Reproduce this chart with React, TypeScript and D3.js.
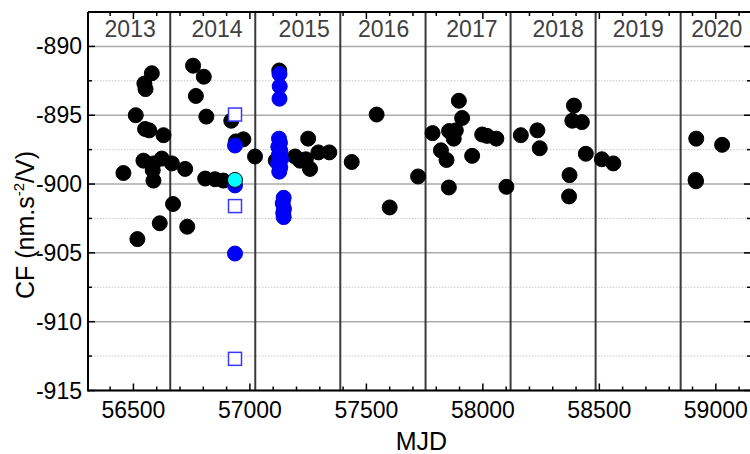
import React from "react";
import * as d3 from "d3";

// Black points: [MJD, CF]
const blackPoints: [number, number][] = [
  [56457, -899.2], [56510, -895.0], [56543, -898.3], [56547, -892.7], [56552, -893.1],
  [56550, -896.0], [56568, -896.1], [56579, -891.95], [56583, -899.0], [56586, -898.5],
  [56586, -899.75], [56517, -904.0], [56613, -902.85], [56622, -898.15], [56629, -896.45],
  [56665, -898.5], [56670, -901.45],
  [56722, -898.9], [56731, -903.1], [56756, -891.4], [56768, -893.6], [56802, -892.2],
  [56808, -899.6], [56813, -895.1], [56850, -899.65], [56886, -899.75], [56920, -895.4],
  [56940, -896.9], [56972, -896.75], [57022, -898.0],
  [57126, -891.75], [57111, -898.3], [57194, -898.0], [57215, -898.3], [57240, -898.2],
  [57250, -896.7], [57258, -898.9], [57294, -897.7], [57341, -897.7],
  [57437, -898.4], [57544, -894.95], [57600, -901.7], [57722, -899.45],
  [57784, -896.3], [57820, -897.55], [57844, -898.25], [57854, -900.25], [57855, -896.15],
  [57884, -896.1], [57875, -896.7], [57897, -893.95], [57911, -895.2], [57954, -897.95],
  [57997, -896.4], [58018, -896.5], [58058, -896.7], [58101, -900.2],
  [58163, -896.45], [58234, -896.1], [58244, -897.4], [58372, -899.35], [58370, -900.9],
  [58391, -894.3], [58384, -895.4], [58425, -895.5], [58442, -897.8],
  [58511, -898.2], [58560, -898.5],
  [58916, -896.7], [58913, -899.7], [58915, -899.8], [59027, -897.15],
];

// Blue filled points: [MJD, CF]
const bluePoints: [number, number][] = [
  [56936, -897.2], [56936, -900.1], [56936, -905.05],
  [57127, -892.0], [57128, -892.9], [57127, -893.8],
  [57125, -896.7], [57129, -897.0], [57122, -897.3], [57131, -897.6], [57124, -897.9],
  [57134, -898.2], [57121, -898.5], [57130, -898.8], [57126, -899.1],
  [57145, -901.0], [57141, -901.4], [57146, -901.8], [57143, -902.1], [57145, -902.4],
];

// Cyan point
const cyanPoints: [number, number][] = [[56936, -899.7]];

// Open squares
const squarePoints: [number, number][] = [[56936, -894.95], [56936, -901.6], [56936, -912.7]];

// Year boundaries (MJD of Jan 1) and year labels
const yearBoundaries = [56658, 57023, 57388, 57754, 58119, 58484, 58849];
const yearLabels = ["2013", "2014", "2015", "2016", "2017", "2018", "2019", "2020"];
const yearLabelMJD = [56486, 56859, 57233, 57574, 57953, 58323, 58667, 59004];

const xMajorTicks = [56500, 57000, 57500, 58000, 58500, 59000];
const yMajorTicks = [-915, -910, -905, -900, -895, -890];

const W = 750, H = 454;
const left = 88, right = 751, top = 12, bottom = 390.5;

export default function App() {
  const x = d3.scaleLinear().domain([56305, 59151]).range([left, right]);
  const y = d3.scaleLinear().domain([-915, -887.5]).range([bottom, top]);

  const xMinor = d3.range(56400, 59151, 100).filter((v) => v % 500 !== 0);
  const yMinor = d3.range(-912.5, -887, 5);

  const font = "Liberation Sans, Arial, sans-serif";
  const r = 7.5;

  return (
    <svg width={W} height={H} style={{ position: "fixed", left: 0, top: 0, background: "#fff" }}
      fontFamily={font}>
      <rect x={0} y={0} width={W} height={H} fill="#fff" />
      {/* minor dotted grid */}
      {yMinor.map((v) => (
        <line key={"ym" + v} x1={left} x2={right} y1={y(v)} y2={y(v)} stroke="#c8c8c8"
          strokeWidth={1} strokeDasharray="1.5,1.5" />
      ))}
      {/* major grid */}
      {yMajorTicks.map((v) => (
        <line key={"yg" + v} x1={left} x2={right} y1={y(v)} y2={y(v)} stroke="#ababab" strokeWidth={1.5} />
      ))}
      {/* year boundaries */}
      {yearBoundaries.map((v) => (
        <line key={"yb" + v} x1={x(v)} x2={x(v)} y1={top} y2={bottom} stroke="#3a3a3a" strokeWidth={2} />
      ))}
      {/* year labels */}
      {yearLabels.map((t, i) => (
        <text key={t} x={x(yearLabelMJD[i])} y={36.5} textAnchor="middle" fontSize={23} fill="#404040">{t}</text>
      ))}
      {/* data */}
      {blackPoints.map(([a, b], i) => (
        <circle key={"b" + i} cx={x(a)} cy={y(b)} r={r} fill="#000" stroke="#000" strokeWidth={1} />
      ))}
      {bluePoints.map(([a, b], i) => (
        <circle key={"bl" + i} cx={x(a)} cy={y(b)} r={r} fill="#0000ff" stroke="#0000e0" strokeWidth={1} />
      ))}
      {cyanPoints.map(([a, b], i) => (
        <circle key={"c" + i} cx={x(a)} cy={y(b)} r={r} fill="#00ffff" stroke="#000" strokeWidth={1} />
      ))}
      {squarePoints.map(([a, b], i) => (
        <rect key={"s" + i} x={x(a) - 6.5} y={y(b) - 6.5} width={13} height={13} fill="#fff"
          stroke="#3838ff" strokeWidth={1.5} />
      ))}
      {/* axes frame */}
      <line x1={left} x2={right} y1={bottom} y2={bottom} stroke="#000" strokeWidth={2} />
      <line x1={left} x2={right} y1={top} y2={top} stroke="#000" strokeWidth={2} />
      <line x1={left} x2={left} y1={top} y2={bottom + 1} stroke="#000" strokeWidth={2} />
      <line x1={right} x2={right} y1={top} y2={bottom} stroke="#000" strokeWidth={2} />
      {/* x ticks */}
      {xMajorTicks.map((v) => (
        <g key={"xt" + v}>
          <line x1={x(v)} x2={x(v)} y1={bottom} y2={bottom - 7} stroke="#000" strokeWidth={1.5} />
          <line x1={x(v)} x2={x(v)} y1={top} y2={top + 7} stroke="#000" strokeWidth={1.5} />
          <text x={x(v)} y={418} textAnchor="middle" fontSize={23} fill="#000">{v}</text>
        </g>
      ))}
      {xMinor.map((v) => (
        <g key={"xm" + v}>
          <line x1={x(v)} x2={x(v)} y1={bottom} y2={bottom - 4} stroke="#000" strokeWidth={1.5} />
          <line x1={x(v)} x2={x(v)} y1={top} y2={top + 4} stroke="#000" strokeWidth={1.5} />
        </g>
      ))}
      {/* y ticks */}
      {yMajorTicks.map((v) => (
        <g key={"ytk" + v}>
          <line x1={left} x2={left + 7} y1={y(v)} y2={y(v)} stroke="#000" strokeWidth={1.5} />
          <line x1={right} x2={right - 7} y1={y(v)} y2={y(v)} stroke="#000" strokeWidth={1.5} />
          <text x={82} y={y(v) + 8} textAnchor="end" fontSize={23} fill="#000">{v}</text>
        </g>
      ))}
      {yMinor.map((v) => (
        <g key={"ymt" + v}>
          <line x1={left} x2={left + 4} y1={y(v)} y2={y(v)} stroke="#000" strokeWidth={1.5} />
          <line x1={right} x2={right - 4} y1={y(v)} y2={y(v)} stroke="#000" strokeWidth={1.5} />
        </g>
      ))}
      {/* axis titles */}
      <text x={(left + right) / 2 + 2} y={450} textAnchor="middle" fontSize={25} fill="#000">MJD</text>
      <text transform={`translate(34, ${225}) rotate(-90)`} textAnchor="middle" fontSize={25} fill="#000">
        CF (nm.s<tspan dy={-10} fontSize={15}>-2</tspan><tspan dy={10}>/V)</tspan>
      </text>
    </svg>
  );
}
